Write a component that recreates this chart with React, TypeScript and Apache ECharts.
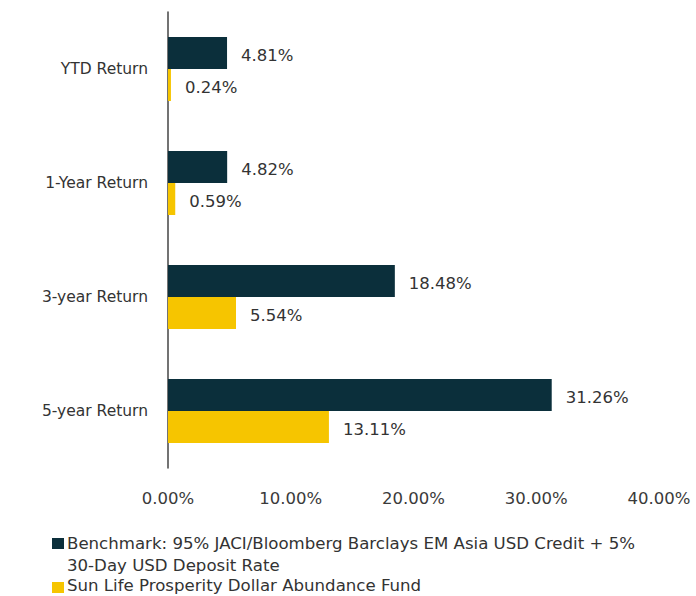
import React, { useEffect, useRef } from "react";
import * as echarts from "echarts";

const categories = ["YTD Return", "1-Year Return", "3-year Return", "5-year Return"];
const benchmarkValues = [4.81, 4.82, 18.48, 31.26];
const fundValues = [0.24, 0.59, 5.54, 13.11];
const benchmarkName = "Benchmark: 95% JACI/Bloomberg Barclays EM Asia USD Credit + 5%\n30-Day USD Deposit Rate";
const fundName = "Sun Life Prosperity Dollar Abundance Fund";
const xTicks = [0, 10, 20, 30, 40];

const DARK = "#0b2f3b";
const YELLOW = "#f6c500";
const FONT = "'DejaVu Sans', Verdana, sans-serif";

export default function App() {
  const ref = useRef<HTMLDivElement>(null);
  useEffect(() => {
    if (!ref.current) return;
    const chart = echarts.init(ref.current, undefined, { renderer: "svg" });
    chart.setOption({
      animation: false,
      backgroundColor: "#ffffff",
      textStyle: { fontFamily: FONT },
      grid: { left: 168, top: 12, width: 491, height: 456, containLabel: false },
      xAxis: {
        type: "value",
        min: xTicks[0],
        max: xTicks[xTicks.length - 1],
        interval: 10,
        axisLine: { show: false },
        axisTick: { show: false },
        splitLine: { show: false },
        axisLabel: {
          color: "#3a3a3a",
          fontSize: 16.5,
          fontFamily: FONT,
          margin: 22,
          formatter: (v: number) => v.toFixed(2) + "%",
        },
      },
      yAxis: {
        type: "category",
        inverse: true,
        data: categories,
        axisLine: { show: true, lineStyle: { color: "#444", width: 1.5 } },
        axisTick: { show: false },
        axisLabel: { color: "#333", fontSize: 15.5, fontFamily: FONT, margin: 20 },
      },
      series: [
        {
          name: benchmarkName,
          type: "bar",
          data: benchmarkValues,
          barWidth: 32,
          barGap: "0%",
          itemStyle: { color: DARK },
          label: {
            show: true,
            position: "right",
            distance: 14,
            offset: [0, 2],
            color: "#333",
            fontSize: 16.5,
            fontFamily: FONT,
            formatter: (p: any) => p.value.toFixed(2) + "%",
          },
        },
        {
          name: fundName,
          type: "bar",
          data: fundValues,
          barWidth: 32,
          barGap: "0%",
          itemStyle: { color: YELLOW },
          label: {
            show: true,
            position: "right",
            distance: 14,
            offset: [0, 2],
            color: "#333",
            fontSize: 16.5,
            fontFamily: FONT,
            formatter: (p: any) => p.value.toFixed(2) + "%",
          },
        },
      ],
      graphic: [
        { type: "rect", left: 52, top: 538, shape: { width: 12, height: 11 }, style: { fill: DARK } },
        {
          type: "text",
          left: 67,
          top: 532,
          style: { text: benchmarkName, fill: "#333", fontSize: 16.6, fontFamily: FONT, lineHeight: 22.5 },
        },
        { type: "rect", left: 52, top: 582, shape: { width: 12, height: 11 }, style: { fill: YELLOW } },
        {
          type: "text",
          left: 67,
          top: 575,
          style: { text: fundName, fill: "#333", fontSize: 16.6, fontFamily: FONT, lineHeight: 20 },
        },
      ],
    });
    return () => chart.dispose();
  }, []);
  return <div ref={ref} style={{ position: "fixed", left: 0, top: 0, width: 696, height: 596 }} />;
}
